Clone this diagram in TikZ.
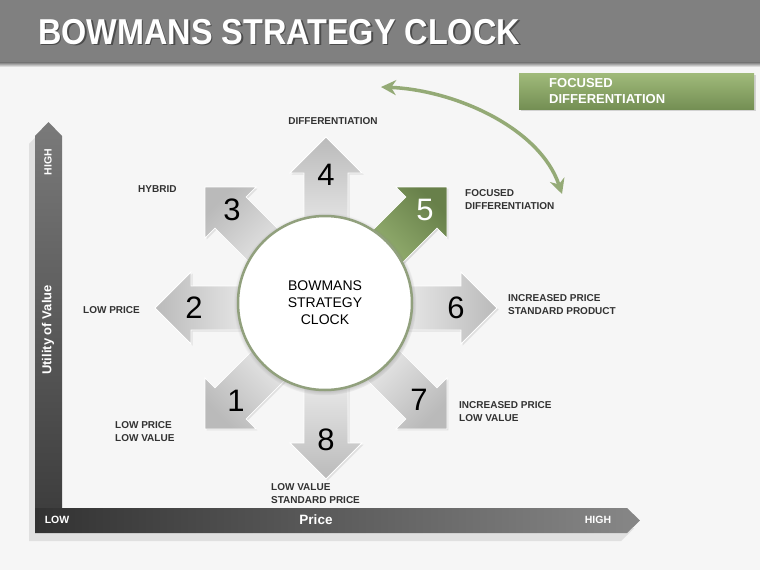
\documentclass[tikz,border=0pt]{standalone}
\usepackage{fontspec}
\setmainfont{Liberation Sans}
\usepackage{graphicx}
\usetikzlibrary{arrows.meta,positioning,calc,shadows}
\definecolor{bg}{RGB}{246,246,246}
\definecolor{bar}{RGB}{128,128,128}
\definecolor{olive}{RGB}{148,170,118}
\definecolor{olivedk}{RGB}{104,128,74}
\definecolor{olivelt}{RGB}{160,188,122}
\definecolor{boxtop}{RGB}{160,186,122}
\definecolor{boxbot}{RGB}{116,143,84}
\definecolor{label}{RGB}{50,50,50}
\definecolor{rim}{RGB}{145,160,125}
\definecolor{axtop}{RGB}{122,122,122}
\definecolor{axbot}{RGB}{60,60,60}
\definecolor{axleft}{RGB}{50,50,50}
\definecolor{axright}{RGB}{135,135,135}

\begin{document}
\begin{tikzpicture}[x=1pt, y=-1pt,
    ttl/.style={font=\bfseries\fontsize{36}{36}\selectfont, text=white, inner sep=0pt, anchor=west},
    lbl/.style={font=\bfseries\fontsize{10}{13}\selectfont, text=label, align=left, inner sep=0pt, anchor=west},
    num/.style={font=\fontsize{31}{31}\selectfont, text=black, inner sep=0pt},
    axtxt/.style={font=\bfseries\fontsize{10.5}{12}\selectfont, text=white, inner sep=0pt},
    arrowpath/.style={insert path={(60,-22) -- (135,-22) -- (135,-36) -- (171,0) -- (135,36) -- (135,22) -- (60,22) -- cycle}},
    grayarr/.style={arrowpath, draw=white, line width=0.8pt, top color=black!27, bottom color=black!6, drop shadow={shadow xshift=1.5pt, shadow yshift=-1.5pt, opacity=0.18}},
    greenarr/.style={arrowpath, draw=white, line width=0.8pt, top color=olivedk, bottom color=olivelt, drop shadow={shadow xshift=1.5pt, shadow yshift=-1.5pt, opacity=0.25}},
    hub/.style={circle, minimum size=174pt, fill=white, draw=rim, line width=2.5pt, inner sep=0pt, font=\fontsize{14}{17}\selectfont, align=center, circular drop shadow={shadow scale=1.05, shadow xshift=0pt, shadow yshift=-1pt}},
    axbar/.style={drop shadow={shadow xshift=-6pt, shadow yshift=-8pt, fill=black!12, opacity=1}},
    fbox/.style={minimum width=235pt, minimum height=36pt, text width=175pt, inner sep=0pt, align=left, top color=boxtop, bottom color=boxbot, font=\bfseries\fontsize{13}{16}\selectfont, text=white, drop shadow={shadow xshift=1.5pt, shadow yshift=-1.5pt, opacity=0.3}},
    link/.style={{Stealth[length=15pt, width=15pt]}-{Stealth[length=15pt, width=15pt]}, line width=3.5pt, olive},
]
\useasboundingbox (0,0) rectangle (760,570);
\fill[bg] (0,0) rectangle (760,570);

% Title bar
\fill[bar] (0,0) rectangle (760,62);
\shade[top color=black!55, bottom color=bg] (0,62) rectangle (760,67);
\node[ttl, text=black!70] (ttlsh) at (39.5,33.5) {\scalebox{0.9}[1]{BOWMANS STRATEGY CLOCK}};
\node[ttl] (ttl) at (38,32) {\scalebox{0.9}[1]{BOWMANS STRATEGY CLOCK}};

% Axes
\shade[axbar, top color=axtop, bottom color=axbot] (35,136) -- (48.5,122) -- (62,136) -- (62,520) -- (35,520) -- cycle;
\shade[axbar, left color=axleft, right color=axright] (35,508) -- (627,508) -- (640,520.5) -- (627,533) -- (35,533) -- cycle;
\node[axtxt, rotate=90] (vhigh) at (48,162) {HIGH};
\node[axtxt, rotate=90, font=\bfseries\fontsize{13}{14}\selectfont] (vtitle) at (48,330) {Utility of Value};
\node[axtxt] (hlow) at (57,520) {LOW};
\node[axtxt, font=\bfseries\fontsize{13.5}{14}\selectfont] (htitle) at (316,520) {Price};
\node[axtxt] (hhigh) at (598,520) {HIGH};

% Clock arrows
\coordinate (o) at (326,308);
\shade[shift={(o)}, rotate=90, grayarr, shading angle=0];
\shade[shift={(o)}, rotate=45, greenarr, shading angle=-45];
\shade[shift={(o)}, rotate=0, grayarr, shading angle=-90];
\shade[shift={(o)}, rotate=-45, grayarr, shading angle=-135];
\shade[shift={(o)}, rotate=-90, grayarr, shading angle=180];
\shade[shift={(o)}, rotate=-135, grayarr, shading angle=135];
\shade[shift={(o)}, rotate=180, grayarr, shading angle=90];
\shade[shift={(o)}, rotate=135, grayarr, shading angle=45];

% Center
\node[hub] (hubc) at (325,303) {BOWMANS\\STRATEGY\\CLOCK};

% Numbers
\node[num] (n1) at (236,401) {1};
\node[num] (n2) at (194,308) {2};
\node[num] (n3) at (232,210) {3};
\node[num] (n4) at (326,175) {4};
\node[num, text=white] (n5) at (425,210) {5};
\node[num] (n6) at (456,308) {6};
\node[num] (n7) at (419,400) {7};
\node[num] (n8) at (326,440) {8};

% Labels
\node[lbl, anchor=center] (ldif) at (333,121) {DIFFERENTIATION};
\node[lbl] (lhyb) at (138,189) {HYBRID};
\node[lbl] (lfoc) at (465,199.5) {FOCUSED\\DIFFERENTIATION};
\node[lbl] (llowp) at (83,310) {LOW PRICE};
\node[lbl] (lincs) at (508,304.5) {INCREASED PRICE\\STANDARD PRODUCT};
\node[lbl] (lincl) at (459,411.5) {INCREASED PRICE\\LOW VALUE};
\node[lbl] (llowl) at (115,431.5) {LOW PRICE\\LOW VALUE};
\node[lbl] (llowv) at (271,493.5) {LOW VALUE\\STANDARD PRICE};

% Focused differentiation callout
\node[fbox, anchor=north west] (fd) at (519,73) {FOCUSED\\DIFFERENTIATION};
\coordinate (ca) at (381,87);
\coordinate (cb) at (562,194);
\draw[link] (ca) .. controls (455,90) and (540,128) .. (cb);
\end{tikzpicture}
\end{document}
